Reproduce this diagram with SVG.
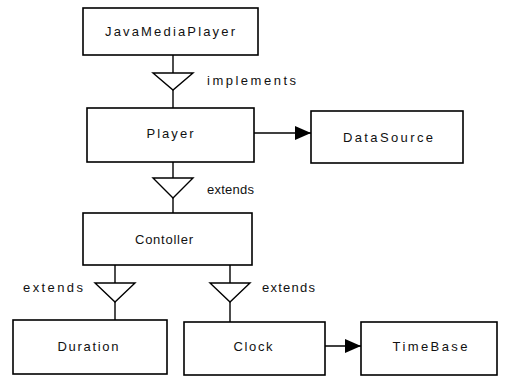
<svg xmlns="http://www.w3.org/2000/svg" width="505" height="380" viewBox="0 0 505 380">
<style>
.box{fill:#fff;stroke:#000;stroke-width:1.6}
.lbl{font-family:"Liberation Sans",Arial,sans-serif;font-size:13px;fill:#111;text-anchor:middle}
.note{font-family:"Liberation Sans",Arial,sans-serif;font-size:13px;fill:#111}
.ln{stroke:#000;stroke-width:1.4;fill:none}
.tri{fill:#fff;stroke:#000;stroke-width:1.4}
</style>
<defs>
<marker id="arr" markerWidth="16" markerHeight="14" refX="16" refY="7" orient="auto" markerUnits="userSpaceOnUse">
<path d="M0,0 L16,7 L0,14 Z" fill="#000"/>
</marker>
</defs>
<rect width="505" height="380" fill="#fff"/>
<g id="connectors">
<line class="ln" x1="173" y1="55" x2="173" y2="73"/>
<polygon class="tri" points="153,73 193,73 173,90"/>
<line class="ln" x1="173" y1="90" x2="173" y2="108"/>
<line class="ln" x1="173" y1="162" x2="173" y2="178"/>
<polygon class="tri" points="153,178 193,178 173,198"/>
<line class="ln" x1="173" y1="198" x2="173" y2="213"/>
<line class="ln" x1="115" y1="265" x2="115" y2="283"/>
<polygon class="tri" points="95,283 135,283 115,302"/>
<line class="ln" x1="115" y1="302" x2="115" y2="320"/>
<line class="ln" x1="230" y1="265" x2="230" y2="283"/>
<polygon class="tri" points="210,283 250,283 230,302"/>
<line class="ln" x1="230" y1="302" x2="230" y2="322"/>
<line class="ln" x1="254" y1="133" x2="311" y2="133" marker-end="url(#arr)"/>
<line class="ln" x1="325" y1="346" x2="361" y2="346" marker-end="url(#arr)"/>
<text class="note" x="207" y="85" textLength="89" lengthAdjust="spacing">implements</text>
<text class="note" x="207" y="194" textLength="47" lengthAdjust="spacing">extends</text>
<text class="note" x="23" y="292" textLength="60" lengthAdjust="spacing">extends</text>
<text class="note" x="262" y="292" textLength="53" lengthAdjust="spacing">extends</text>
</g>
<g id="JavaMediaPlayer">
<rect class="box" x="83" y="8" width="175" height="47"/>
<text class="lbl" x="170" y="36" textLength="130" lengthAdjust="spacing">JavaMediaPlayer</text>
</g>
<g id="Player">
<rect class="box" x="87" y="108" width="167" height="54"/>
<text class="lbl" x="170" y="138" textLength="47" lengthAdjust="spacing">Player</text>
</g>
<g id="DataSource">
<rect class="box" x="311" y="111" width="152" height="52"/>
<text class="lbl" x="388" y="142" textLength="90" lengthAdjust="spacing">DataSource</text>
</g>
<g id="Contoller">
<rect class="box" x="83" y="213" width="169" height="52"/>
<text class="lbl" x="164" y="244" textLength="58" lengthAdjust="spacing">Contoller</text>
</g>
<g id="Duration">
<rect class="box" x="13" y="320" width="154" height="54"/>
<text class="lbl" x="88" y="351" textLength="61" lengthAdjust="spacing">Duration</text>
</g>
<g id="Clock">
<rect class="box" x="184" y="322" width="141" height="53"/>
<text class="lbl" x="253" y="351" textLength="39" lengthAdjust="spacing">Clock</text>
</g>
<g id="TimeBase">
<rect class="box" x="361" y="322" width="136" height="53"/>
<text class="lbl" x="430" y="351" textLength="75" lengthAdjust="spacing">TimeBase</text>
</g>
</svg>
